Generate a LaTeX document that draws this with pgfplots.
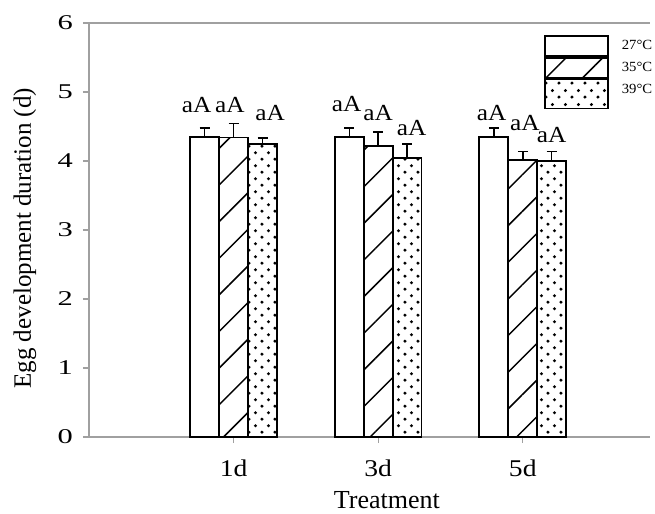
\documentclass[border=0pt]{standalone}
\usepackage{fontspec}
\setmainfont{Liberation Serif}
\usepackage{graphicx}
\usepackage{pgfplots}
\pgfplotsset{compat=1.18}
\usetikzlibrary{patterns.meta}
\definecolor{axisgray}{RGB}{160,160,160}
\pgfdeclarepatternformonly{mydots}{\pgfqpoint{0pt}{0pt}}{\pgfqpoint{13pt}{13.4pt}}{\pgfqpoint{13pt}{13.4pt}}{%
  \pgfpathcircle{\pgfqpoint{3pt}{3pt}}{1.7pt}%
  \pgfpathcircle{\pgfqpoint{9.5pt}{9.7pt}}{1.7pt}%
  \pgfusepath{fill}}
\begin{document}
\begin{tikzpicture}
\begin{axis}[
  scale only axis, width=561bp, height=414bp,
  xmin=0, xmax=3.88, ymin=0, ymax=6,
  axis lines=left, axis line style={-, axisgray, line width=1.5bp},
  tick align=outside, major tick length=6bp,
  tick style={axisgray, line width=1.2bp},
  xtick={1,2,3}, xticklabels={\scalebox{1.15}[1]{1d},\scalebox{1.15}[1]{3d},\scalebox{1.15}[1]{5d}},
  ytick={0,1,...,6},
  yticklabel={\scalebox{1.45}[1]{\pgfmathprintnumber[assume math mode=true]{\tick}}},
  yticklabel style={font=\fontsize{21bp}{24bp}\selectfont, inner sep=0pt, anchor=east, xshift=-10bp},
  xticklabel style={font=\fontsize{24bp}{26bp}\selectfont, inner sep=0pt, anchor=center, yshift=-25bp},
  every axis x label/.style={at={(rel axis cs:0.531,0)}, anchor=center, yshift=-63bp, font=\fontsize{26bp}{28bp}\selectfont},
  every axis y label/.style={at={([xshift=-64bp]rel axis cs:0,0.48)}, rotate=90, anchor=center, font=\fontsize{25bp}{28bp}\selectfont},
  xlabel={Treatment}, ylabel={Egg development duration (d)},
  ybar, bar width=0.2,
  legend style={at={(axis cs:3.147,5.826)}, anchor=north west, draw=none, fill=none,
    inner sep=0pt, outer sep=0pt, row sep=0pt, column sep=13bp,
    nodes={inner sep=0pt, outer sep=0pt},
    font=\fontsize{14bp}{15bp}\selectfont},
  legend cell align=left,
  error bars/y dir=plus, error bars/y explicit,
  error bars/error bar style={black, line width=1.5bp},
  error bars/error mark options={black, line width=1.5bp, mark size=5bp, rotate=90},
]
\addplot[draw=black, fill=white, line width=1.8bp, bar shift=-0.2,
  legend image code/.code={\draw[draw=black, fill=white, line width=1.8bp] (0bp,-10bp) rectangle (63bp,10bp);}]
  coordinates {(1,4.35) +- (0,0.13) (2,4.35) +- (0,0.13) (3,4.35) +- (0,0.13)};
\addlegendentry{\scalebox{1.05}[1]{27°C}}
\addplot[draw=black, line width=1.8bp, bar shift=0,
  pattern={Lines[angle=45, distance=26pt, line width=1.5pt]},
  legend image code/.code={\draw[draw=black, line width=1.8bp, pattern={Lines[angle=45, distance=26pt, line width=1.5pt]}] (0bp,-10bp) rectangle (63bp,10bp);}]
  coordinates {(1,4.34) +- (0,0.20) (2,4.22) +- (0,0.20) (3,4.01) +- (0,0.13)};
\addlegendentry{\scalebox{1.05}[1]{35°C}}
\addplot[draw=black, line width=1.8bp, bar shift=0.2,
  pattern=mydots,
  legend image code/.code={\draw[draw=black, line width=1.8bp, pattern=mydots] (0bp,-19bp) rectangle (63bp,10bp);}]
  coordinates {(1,4.25) +- (0,0.08) (2,4.04) +- (0,0.21) (3,4.00) +- (0,0.14)};
\addlegendentry{\scalebox{1.05}[1]{39°C}}
\draw[axisgray, line width=1.5bp] (rel axis cs:0,1) -- (rel axis cs:1,1);
\coordinate (sw) at (rel axis cs:0,0);
\begin{scope}[every node/.style={font=\fontsize{23bp}{25bp}\selectfont, inner sep=0pt, anchor=center}]
\node at (axis cs:0.745,4.81) {\scalebox{1.1}[1]{aA}};
\node at (axis cs:0.975,4.81) {\scalebox{1.1}[1]{aA}};
\node at (axis cs:1.252,4.70) {\scalebox{1.1}[1]{aA}};
\node at (axis cs:1.782,4.83) {\scalebox{1.1}[1]{aA}};
\node at (axis cs:2.0,4.70) {\scalebox{1.1}[1]{aA}};
\node at (axis cs:2.232,4.48) {\scalebox{1.1}[1]{aA}};
\node at (axis cs:2.785,4.70) {\scalebox{1.1}[1]{aA}};
\node at (axis cs:3.015,4.55) {\scalebox{1.1}[1]{aA}};
\node at (axis cs:3.2,4.38) {\scalebox{1.1}[1]{aA}};
\end{scope}
\end{axis}
\pgfresetboundingbox
\path (sw) ++(-89bp,-77bp) rectangle ++(655bp,514bp);
\end{tikzpicture}
\end{document}
